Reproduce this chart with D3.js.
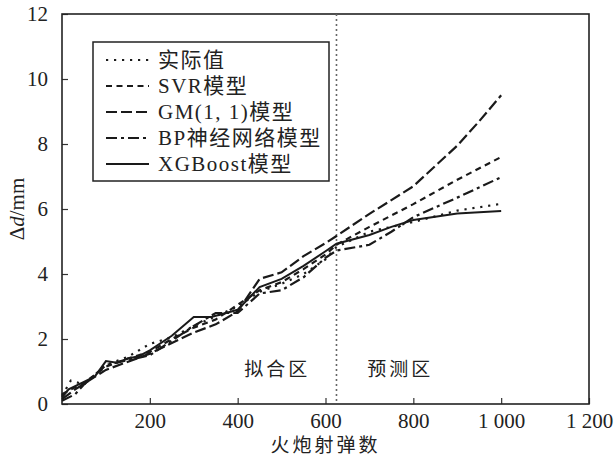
<!DOCTYPE html>
<html>
<head>
<meta charset="utf-8">
<script src="https://cdn.jsdelivr.net/npm/d3@7"></script>
<style>
  body { margin: 0; background: #fff; }
  svg { display: block; }
  text { fill: #222; }
</style>
</head>
<body>
<div id="chart"></div>
<script>
// x positions (shots) and values for each curve
var xActual = [0, 20, 50, 100, 150, 200, 250, 300, 350, 400, 450, 500, 550, 600, 625, 700, 800, 900, 1000];
var yActual = [0.25, 0.72, 0.6, 1.2, 1.45, 1.85, 2.05, 2.4, 2.7, 3.0, 3.45, 3.7, 4.0, 4.45, 4.83, 5.3, 5.6, 5.95, 6.16];

var xSVR = [0, 20, 50, 100, 150, 200, 250, 300, 350, 400, 450, 500, 550, 600, 625, 700, 800, 900, 1000];
var ySVR = [0.3, 0.45, 0.65, 1.15, 1.4, 1.6, 2.0, 2.35, 2.6, 3.05, 3.5, 3.75, 4.15, 4.6, 4.9, 5.45, 6.15, 6.9, 7.6];

var xGM = [0, 30, 100, 200, 300, 350, 400, 450, 500, 550, 600, 625, 700, 800, 900, 950, 1000];
var yGM = [0.15, 0.45, 1.05, 1.55, 2.2, 2.45, 2.85, 3.85, 4.05, 4.55, 4.95, 5.17, 5.85, 6.7, 7.95, 8.7, 9.5];

var xBP = [0, 30, 50, 100, 150, 200, 250, 300, 350, 400, 450, 500, 550, 600, 625, 700, 750, 800, 900, 1000];
var yBP = [0.1, 0.3, 0.6, 1.2, 1.35, 1.5, 1.95, 2.4, 2.8, 2.8, 3.4, 3.5, 3.9, 4.5, 4.72, 4.9, 5.3, 5.75, 6.35, 6.98];

var xXGB = [0, 15, 50, 75, 100, 125, 150, 175, 200, 250, 300, 340, 400, 450, 500, 550, 600, 625, 700, 750, 800, 900, 1000];
var yXGB = [0.2, 0.45, 0.68, 0.85, 1.32, 1.27, 1.4, 1.47, 1.65, 2.1, 2.68, 2.68, 2.9, 3.6, 3.85, 4.25, 4.7, 4.93, 5.2, 5.45, 5.66, 5.86, 5.94];

var seriesNames = ["实际值", "SVR模型", "GM(1, 1)模型", "BP神经网络模型", "XGBoost模型"];
var xTicks = [200, 400, 600, 800, 1000, 1200];
var xTickLabels = ["200", "400", "600", "800", "1 000", "1 200"];
var yTicks = [0, 2, 4, 6, 8, 10, 12];
var splitAt = 625;
var regionLabels = ["拟合区", "预测区"];

var W = 614, H = 462;
var serif = "'Liberation Serif', 'Times New Roman', serif";
var cjk = "'Liberation Serif', 'Noto Sans CJK SC', serif";

var svg = d3.select("#chart").append("svg")
    .attr("width", W)
    .attr("height", H);

var x = d3.scaleLinear().domain([0, 1200]).range([62, 589]);
var y = d3.scaleLinear().domain([0, 12]).range([404, 14]);

// line styles, same order as seriesNames
var styles = [
    { dash: "2.2,5.8", w: 2.2 },
    { dash: "6,4.5", w: 2.2 },
    { dash: "11,4", w: 2.2 },
    { dash: "11,4,3,4", w: 2.2 },
    { dash: null, w: 2 }
];

var data = [
    d3.zip(xActual, yActual),
    d3.zip(xSVR, ySVR),
    d3.zip(xGM, yGM),
    d3.zip(xBP, yBP),
    d3.zip(xXGB, yXGB)
];

// axes, ticks pointing inside
var xAxis = svg.append("g")
    .attr("transform", "translate(0," + y(0) + ")")
    .call(d3.axisBottom(x).tickValues(xTicks).tickSize(-6).tickPadding(9)
        .tickFormat(function (d, i) { return xTickLabels[i]; }));
xAxis.select(".domain").remove();
xAxis.selectAll("line").attr("stroke", "#333").attr("stroke-width", 1.2);
xAxis.selectAll("text").style("font-family", serif).style("font-size", "21px").attr("fill", "#222");

var yAxis = svg.append("g")
    .attr("transform", "translate(" + x(0) + ",0)")
    .call(d3.axisLeft(y).tickValues(yTicks).tickSize(-6).tickPadding(14));
yAxis.select(".domain").remove();
yAxis.selectAll("line").attr("stroke", "#333").attr("stroke-width", 1.2);
yAxis.selectAll("text").style("font-family", serif).style("font-size", "21px").attr("fill", "#222");

// frame
svg.append("rect")
    .attr("x", x(0)).attr("y", y(12))
    .attr("width", x(1200) - x(0)).attr("height", y(0) - y(12))
    .attr("fill", "none").attr("stroke", "#222").attr("stroke-width", 1.6);

// split line
svg.append("line")
    .attr("x1", x(splitAt)).attr("x2", x(splitAt))
    .attr("y1", y(12)).attr("y2", y(0))
    .attr("stroke", "#666").attr("stroke-width", 1.6)
    .attr("stroke-dasharray", "2,3");

svg.append("text")
    .attr("x", x(490)).attr("y", y(0.85))
    .attr("text-anchor", "middle")
    .style("font-family", cjk).style("font-size", "19px").style("letter-spacing", "3px")
    .text(regionLabels[0]);
svg.append("text")
    .attr("x", x(770)).attr("y", y(0.85))
    .attr("text-anchor", "middle")
    .style("font-family", cjk).style("font-size", "19px").style("letter-spacing", "3px")
    .text(regionLabels[1]);

// curves
var line = d3.line()
    .x(function (d) { return x(d[0]); })
    .y(function (d) { return y(d[1]); });

data.forEach(function (s, i) {
    svg.append("path")
        .datum(s)
        .attr("d", line)
        .attr("fill", "none")
        .attr("stroke", "#1a1a1a")
        .attr("stroke-width", styles[i].w)
        .attr("stroke-dasharray", styles[i].dash);
});

// legend
var leg = svg.append("g");
leg.append("rect")
    .attr("x", 93).attr("y", 42)
    .attr("width", 236).attr("height", 139)
    .attr("fill", "#fff").attr("stroke", "#222").attr("stroke-width", 1.5);

seriesNames.forEach(function (name, i) {
    var cy = 60 + i * 26;
    leg.append("line")
        .attr("x1", 106).attr("x2", 149)
        .attr("y1", cy).attr("y2", cy)
        .attr("stroke", "#1a1a1a")
        .attr("stroke-width", styles[i].w)
        .attr("stroke-dasharray", styles[i].dash);
    leg.append("text")
        .attr("x", 158).attr("y", cy + 7)
        .style("font-family", cjk).style("font-size", "21px").style("letter-spacing", "1.5px")
        .text(name);
});

// axis titles
svg.append("text")
    .attr("x", (x(0) + x(1200)) / 2).attr("y", 452)
    .attr("text-anchor", "middle")
    .style("font-family", cjk).style("font-size", "19px").style("letter-spacing", "3px")
    .text("火炮射弹数");

var yt = svg.append("text")
    .attr("transform", "translate(24," + y(6) + ") rotate(-90)")
    .attr("text-anchor", "middle")
    .style("font-family", serif).style("font-size", "21px");
yt.append("tspan").text("Δ");
yt.append("tspan").style("font-style", "italic").text("d");
yt.append("tspan").text("/mm");
</script>
</body>
</html>
